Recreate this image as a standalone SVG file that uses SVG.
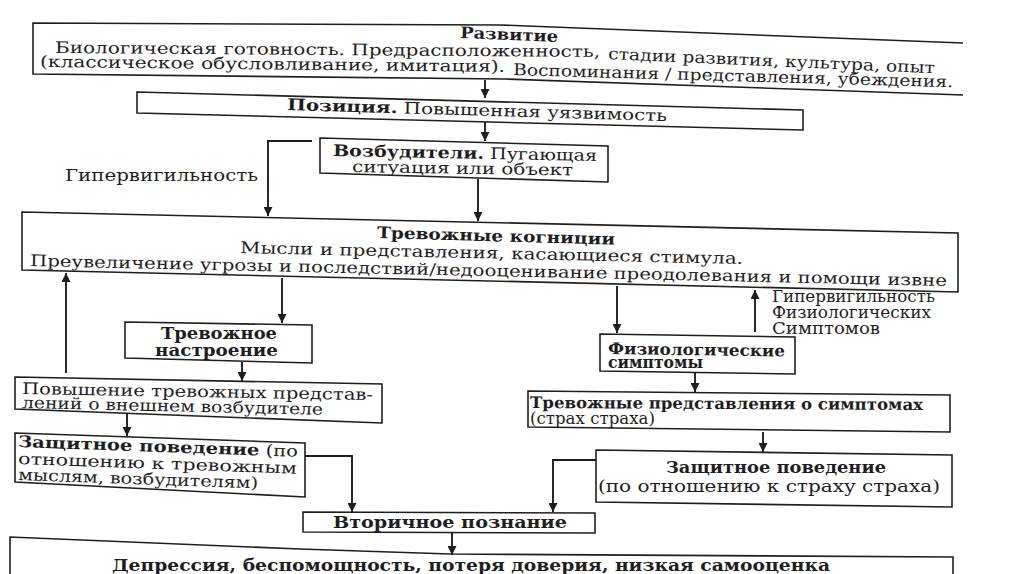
<svg xmlns="http://www.w3.org/2000/svg" width="1024" height="574" viewBox="0 0 1024 574">
<style>
.bx{fill:#fff;stroke:#1e1e1e;stroke-width:1.6;stroke-linejoin:miter}
.ln{fill:none;stroke:#1e1e1e;stroke-width:1.6}
.t{font-family:"DejaVu Serif","Liberation Serif",serif;fill:#1e1e1e;font-size:16px}
.b{font-weight:bold}
.c{fill:none;stroke:#1e1e1e;stroke-width:1.9}
</style>
<defs>
<marker id="ah" viewBox="0 0 10 10" refX="10" refY="5" markerWidth="9" markerHeight="9" markerUnits="userSpaceOnUse" orient="auto">
<path d="M0,0 L10,5 L0,10 z" fill="#1e1e1e"/>
</marker>
</defs>
<rect width="1024" height="574" fill="#fff"/>

<g id="connectors">
<path class="c" d="M485,80 L485,98" marker-end="url(#ah)"/>
<path class="c" d="M485,122 L485,141" marker-end="url(#ah)"/>
<path class="c" d="M312,141 L268,141 L268,216" marker-end="url(#ah)"/>
<path class="c" d="M478,179 L478,221" marker-end="url(#ah)"/>
<path class="c" d="M66,373 L66,273" marker-end="url(#ah)"/>
<path class="c" d="M282,278 L282,323" marker-end="url(#ah)"/>
<path class="c" d="M242,362 L242,381" marker-end="url(#ah)"/>
<path class="c" d="M127,413 L127,436" marker-end="url(#ah)"/>
<path class="c" d="M305,456 L352,456 L352,512" marker-end="url(#ah)"/>
<path class="c" d="M617,286 L617,333" marker-end="url(#ah)"/>
<path class="c" d="M755,332 L755,290" marker-end="url(#ah)"/>
<path class="c" d="M695,373 L695,392" marker-end="url(#ah)"/>
<path class="c" d="M763,432 L763,452" marker-end="url(#ah)"/>
<path class="c" d="M596,460 L553,460 L553,512" marker-end="url(#ah)"/>
<path class="c" d="M452,533 L452,555" marker-end="url(#ah)"/>
</g>

<g id="n-razvitie">
<path class="ln" d="M963,43 L500,25 L33,23 L33,74 L505,79 L963,95"/>
<text class="t b" x="460" y="38" font-size="17" textLength="98" lengthAdjust="spacingAndGlyphs" transform="rotate(2.3 460 38)">Развитие</text>
<text class="t" x="55" y="53" font-size="17" textLength="545" lengthAdjust="spacingAndGlyphs" transform="rotate(0.42 55 53)">Биологическая готовность. Предрасположенность,</text>
<text class="t" x="608" y="59" font-size="17" textLength="327" lengthAdjust="spacingAndGlyphs" transform="rotate(2.5 608 59)">стадии развития, культура, опыт</text>
<text class="t" x="40" y="67" font-size="17" textLength="465" lengthAdjust="spacingAndGlyphs" transform="rotate(0.6 40 67)">(классическое обусловливание, имитация).</text>
<text class="t" x="513" y="75" font-size="17" textLength="440" lengthAdjust="spacingAndGlyphs" transform="rotate(1.6 513 75)">Воспоминания / представления, убеждения.</text>
</g>

<g id="n-pozitsiya">
<polygon class="bx" points="137,92 803,110 803,130 137,113"/>
<text class="t" x="287" y="110" textLength="380" lengthAdjust="spacingAndGlyphs" transform="rotate(1.66 287 110)"><tspan class="b">Позиция.</tspan> Повышенная уязвимость</text>
</g>

<g id="n-vozbuditeli">
<polygon class="bx" points="320,138 608,146 608,182 320,173"/>
<text class="t" x="333" y="156" textLength="264" lengthAdjust="spacingAndGlyphs" transform="rotate(1.1 333 156)"><tspan class="b">Возбудители.</tspan> Пугающая</text>
<text class="t" x="352" y="172" textLength="221" lengthAdjust="spacingAndGlyphs" transform="rotate(0.9 352 172)">ситуация или объект</text>
</g>

<g id="lbl-hyper">
<text class="t" x="65" y="181" textLength="193" lengthAdjust="spacingAndGlyphs">Гипервигильность</text>
</g>

<g id="n-kognitsii">
<polygon class="bx" points="22,212 958,233 958,292 22,270"/>
<text class="t b" x="377" y="238" font-size="17" textLength="238" lengthAdjust="spacingAndGlyphs" transform="rotate(1.6 377 238)">Тревожные когниции</text>
<text class="t" x="240" y="253" font-size="17" textLength="503" lengthAdjust="spacingAndGlyphs" transform="rotate(1.25 240 253)">Мысли и представления, касающиеся стимула.</text>
<text class="t" x="30" y="266" font-size="17" textLength="917" lengthAdjust="spacingAndGlyphs" transform="rotate(1.25 30 266)">Преувеличение угрозы и последствий/недооценивание преодолевания и помощи извне</text>
</g>

<g id="n-nastroenie">
<polygon class="bx" points="125,322 312,325 312,363 125,358"/>
<text class="t b" x="161" y="339" font-size="14" textLength="116" lengthAdjust="spacingAndGlyphs">Тревожное</text>
<text class="t b" x="155" y="356" font-size="14" textLength="123" lengthAdjust="spacingAndGlyphs">настроение</text>
</g>

<g id="n-povyshenie">
<polygon class="bx" points="15,377 382,384 382,423 15,409"/>
<text class="t" x="22" y="394" font-size="15" textLength="351" lengthAdjust="spacingAndGlyphs" transform="rotate(1 22 394)">Повышение тревожных представ-</text>
<text class="t" x="22" y="408" font-size="15" textLength="301" lengthAdjust="spacingAndGlyphs" transform="rotate(1.3 22 408)">лений о внешнем возбудителе</text>
</g>

<g id="n-zashchita1">
<polygon class="bx" points="15,433 305,443 305,497 15,482"/>
<text class="t" x="18" y="447" textLength="280" lengthAdjust="spacingAndGlyphs" transform="rotate(2 18 447)"><tspan class="b">Защитное поведение</tspan> (по</text>
<text class="t" x="18" y="464" textLength="279" lengthAdjust="spacingAndGlyphs" transform="rotate(2 18 464)">отношению к тревожным</text>
<text class="t" x="18" y="480" textLength="240" lengthAdjust="spacingAndGlyphs" transform="rotate(2 18 480)">мыслям, возбудителям)</text>
</g>

<g id="n-fiziol">
<polygon class="bx" points="600,334 795,337 795,374 600,371"/>
<text class="t b" x="608" y="354" font-size="15" textLength="177" lengthAdjust="spacingAndGlyphs" transform="rotate(0.8 608 354)">Физиологические</text>
<text class="t b" x="608" y="368" font-size="15" textLength="95" lengthAdjust="spacingAndGlyphs">симптомы</text>
</g>

<g id="lbl-hyper2">
<text class="t" x="772" y="302" font-size="11.5" textLength="163" lengthAdjust="spacingAndGlyphs">Гипервигильность</text>
<text class="t" x="772" y="318" font-size="11.5" textLength="159" lengthAdjust="spacingAndGlyphs">Физиологических</text>
<text class="t" x="772" y="334" font-size="11.5" textLength="108" lengthAdjust="spacingAndGlyphs">Симптомов</text>
</g>

<g id="n-predstavleniya">
<polygon class="bx" points="528,391 950,395 950,432 528,427"/>
<text class="t b" x="530" y="408" font-size="15" textLength="393" lengthAdjust="spacingAndGlyphs" transform="rotate(0.3 530 408)">Тревожные представления о симптомах</text>
<text class="t" x="530" y="424" font-size="15" textLength="125" lengthAdjust="spacingAndGlyphs">(страх страха)</text>
</g>

<g id="n-zashchita2">
<polygon class="bx" points="596,450 952,455 952,507 596,502"/>
<text class="t b" x="666" y="473" textLength="220" lengthAdjust="spacingAndGlyphs">Защитное поведение</text>
<text class="t" x="598" y="492" textLength="342" lengthAdjust="spacingAndGlyphs">(по отношению к страху страха)</text>
</g>

<g id="n-vtorichnoe">
<polygon class="bx" points="303,512 595,513 595,533 303,532"/>
<text class="t b" x="333" y="528" textLength="234" lengthAdjust="spacingAndGlyphs">Вторичное познание</text>
</g>

<g id="n-depressiya">
<path class="ln" d="M10,574 L10,537 L300,549 L450,554 L953,557 L953,574"/>
<text class="t b" x="112" y="571" font-size="16.5" textLength="718" lengthAdjust="spacingAndGlyphs">Депрессия, беспомощность, потеря доверия, низкая самооценка</text>
</g>
</svg>
